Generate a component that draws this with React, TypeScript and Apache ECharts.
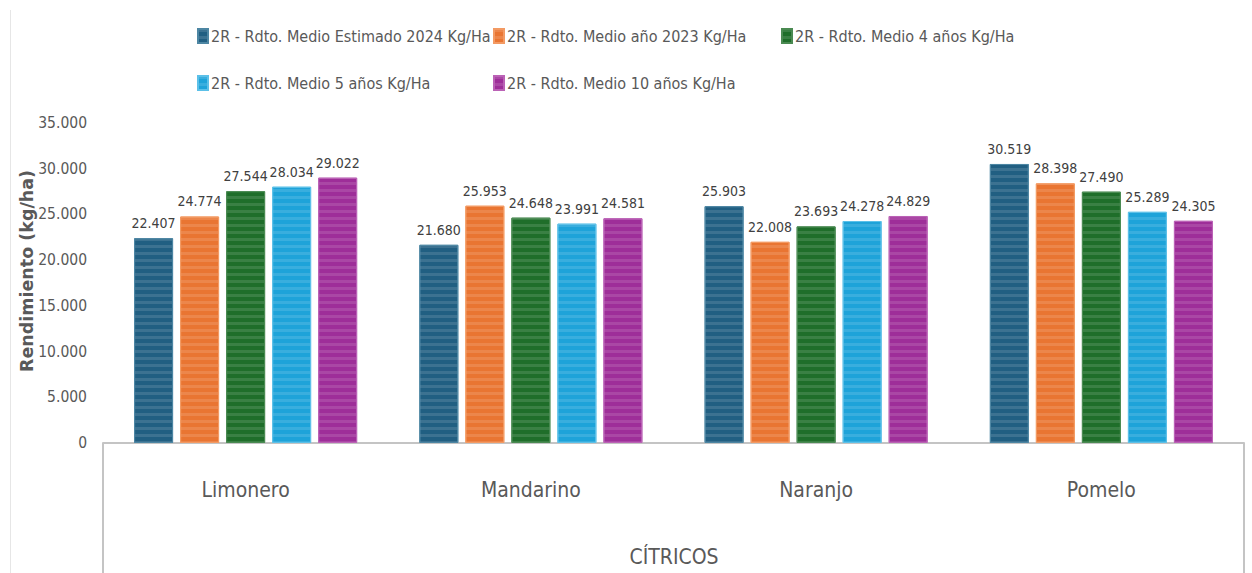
import React, { useEffect, useRef } from "react";
import * as echarts from "echarts";

const categories = ["Limonero", "Mandarino", "Naranjo", "Pomelo"];
const seriesNames = [
  "2R - Rdto. Medio Estimado 2024 Kg/Ha",
  "2R - Rdto. Medio año 2023 Kg/Ha",
  "2R - Rdto. Medio 4 años Kg/Ha",
  "2R - Rdto. Medio 5 años Kg/Ha",
  "2R - Rdto. Medio 10 años Kg/Ha",
];
const est2024 = [22407, 21680, 25903, 30519];
const year2023 = [24774, 25953, 22008, 28398];
const avg4 = [27544, 24648, 23693, 27490];
const avg5 = [28034, 23991, 24278, 25289];
const avg10 = [29022, 24581, 24829, 24305];
const seriesValues = [est2024, year2023, avg4, avg5, avg10];
const colors = ["#215f82", "#e97532", "#1f6e2a", "#1ea3d9", "#9e2e99"];
const borders = ["#4d86a3", "#f39a63", "#4a8a52", "#5cc0e8", "#bb62b6"];
const yTicks = [0, 5000, 10000, 15000, 20000, 25000, 30000, 35000];

const NARROW = "'DejaVu Sans Condensed', 'Roboto', sans-serif";

function fmt(v: number): string {
  return String(Math.round(v)).replace(/\B(?=(\d{3})+(?!\d))/g, ".");
}

const legendPos = [
  { left: 192, top: 23 },
  { left: 488, top: 23 },
  { left: 776, top: 23 },
  { left: 192, top: 70 },
  { left: 488, top: 70 },
];

export default function App() {
  const ref = useRef<HTMLDivElement>(null);
  useEffect(() => {
    if (!ref.current) return;
    const chart = echarts.init(ref.current, null, { renderer: "svg" });
    const option: any = {
      animation: false,
      backgroundColor: "#ffffff",
      textStyle: { fontFamily: NARROW },
      legend: seriesNames.map((n, i) => ({
        data: [n],
        left: legendPos[i].left,
        top: legendPos[i].top,
        itemWidth: 10,
        itemHeight: 14,
        icon: "rect",
        textStyle: { fontFamily: NARROW, fontSize: 16, color: "#595959", padding: [0, 0, 0, -2] },
        selectedMode: false,
      })),
      grid: { left: 103, right: 8, top: 123, bottom: 130, containLabel: false },
      xAxis: {
        type: "category",
        data: categories,
        axisLine: { show: true, lineStyle: { color: "#c4c4c4", width: 2 } },
        axisTick: { show: false },
        axisLabel: { fontFamily: NARROW, fontSize: 21, color: "#595959", margin: 36 },
      },
      yAxis: {
        type: "value",
        min: yTicks[0],
        max: yTicks[yTicks.length - 1],
        interval: 5000,
        axisLine: { show: false },
        axisTick: { show: false },
        splitLine: { show: false },
        axisLabel: {
          fontFamily: NARROW,
          fontSize: 15.5,
          color: "#595959",
          margin: 16,
          formatter: (v: number) => fmt(v),
        },
      },
      series: seriesNames.map((n, i) => ({
        name: n,
        type: "bar",
        data: seriesValues[i],
        barWidth: 39,
        barGap: "18%",
        itemStyle: {
          color: colors[i],
          borderColor: borders[i],
          borderWidth: 1,
          decal: {
            symbol: "rect",
            symbolSize: 1,
            dashArrayX: [1, 0],
            dashArrayY: [3, 4],
            rotation: 0,
            color: "rgba(255,255,255,0.12)",
          },
        },
        label: {
          show: true,
          position: "top",
          distance: 8,
          fontFamily: NARROW,
          fontSize: 14,
          color: "#404040",
          formatter: (p: any) => fmt(p.value),
        },
      })),
      graphic: [
        {
          type: "line",
          shape: { x1: 10.5, y1: 10, x2: 10.5, y2: 573 },
          style: { stroke: "#e6e6e6", lineWidth: 1 },
          silent: true,
        },
        {
          type: "line",
          shape: { x1: 103, y1: 443, x2: 103, y2: 573 },
          style: { stroke: "#c4c4c4", lineWidth: 2 },
          silent: true,
        },
        {
          type: "line",
          shape: { x1: 1244, y1: 443, x2: 1244, y2: 573 },
          style: { stroke: "#c4c4c4", lineWidth: 2 },
          silent: true,
        },
        {
          type: "text",
          x: 674,
          y: 557,
          style: {
            text: "CÍTRICOS",
            fontFamily: NARROW,
            fontSize: 21,
            fill: "#595959",
            align: "center",
            verticalAlign: "middle",
          },
        },
        {
          type: "text",
          x: 27,
          y: 271,
          rotation: Math.PI / 2,
          style: {
            text: "Rendimiento (kg/ha)",
            fontFamily: "'DejaVu Sans', sans-serif",
            fontWeight: "bold",
            fontSize: 17.5,
            fill: "#595959",
            align: "center",
            verticalAlign: "middle",
          },
        },
      ],
    };
    chart.setOption(option);
    return () => chart.dispose();
  }, []);
  return (
    <div
      ref={ref}
      style={{ position: "fixed", left: 0, top: 0, width: 1252, height: 573 }}
    />
  );
}
